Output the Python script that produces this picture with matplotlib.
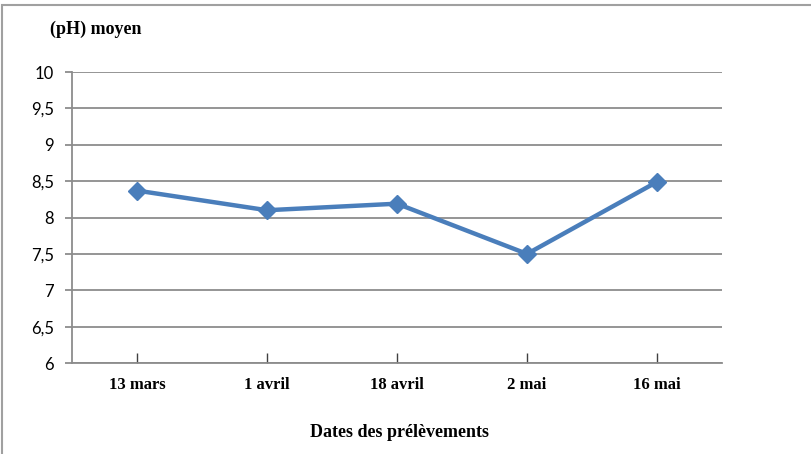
import matplotlib.pyplot as plt
from matplotlib.patches import Rectangle

# pH moyen relevé à chaque date de prélèvement
dates = ["13 mars", "1 avril", "18 avril", "2 mai", "16 mai"]
ph_moyen = [8.37, 8.10, 8.19, 7.50, 8.49]
graduations = [6, 6.5, 7, 7.5, 8, 8.5, 9, 9.5, 10]
etiquettes_y = ["6", "6,5", "7", "7,5", "8", "8,5", "9", "9,5", "10"]

police = {"family": "Liberation Serif", "weight": "bold"}
police_y = {"family": "Lato", "weight": "normal"}
gris = "#8c8c8c"
bleu = "#4a7ebb"

fig = plt.figure(figsize=(8.11, 4.54), dpi=100)

# cadre du graphique
fig.patches.append(Rectangle((0.003, -0.05), 1.2, 1.04, transform=fig.transFigure,
                             fill=False, edgecolor="#a0a0a0", linewidth=1.5))

ax = fig.add_axes([0.0888, 0.2004, 0.8015, 0.641])
x = list(range(len(dates)))
ax.plot(x, ph_moyen, color=bleu, linewidth=3.2, marker="D", markersize=9,
        markeredgecolor=bleu, zorder=3)

ax.set_xlim(-0.5, len(dates) - 0.5)
ax.set_ylim(6, 10)
ax.set_yticks(graduations)
ax.set_yticklabels(etiquettes_y, fontdict=police_y, fontsize=12)
ax.set_xticks(x)
ax.set_xticklabels(dates, fontdict=police, fontsize=12)

for y in graduations:
    ax.axhline(y, color=gris, linewidth=1.3, zorder=1)

for cote in ["top", "right"]:
    ax.spines[cote].set_visible(False)
ax.spines["left"].set_color(gris)
ax.spines["bottom"].set_color(gris)
ax.spines["left"].set_linewidth(1.3)
ax.spines["bottom"].set_linewidth(1.3)

ax.tick_params(axis="y", direction="out", length=5, color=gris, width=1.3, pad=8)
ax.tick_params(axis="x", direction="in", length=7, color="#404040", width=1, pad=10)

fig.text(0.062, 0.935, "(pH) moyen", ha="left", va="center", fontsize=13, **police)
fig.text(0.493, 0.047, "Dates des prélèvements", ha="center", va="center",
         fontsize=13, **police)

fig.savefig("out.png", dpi=100)
